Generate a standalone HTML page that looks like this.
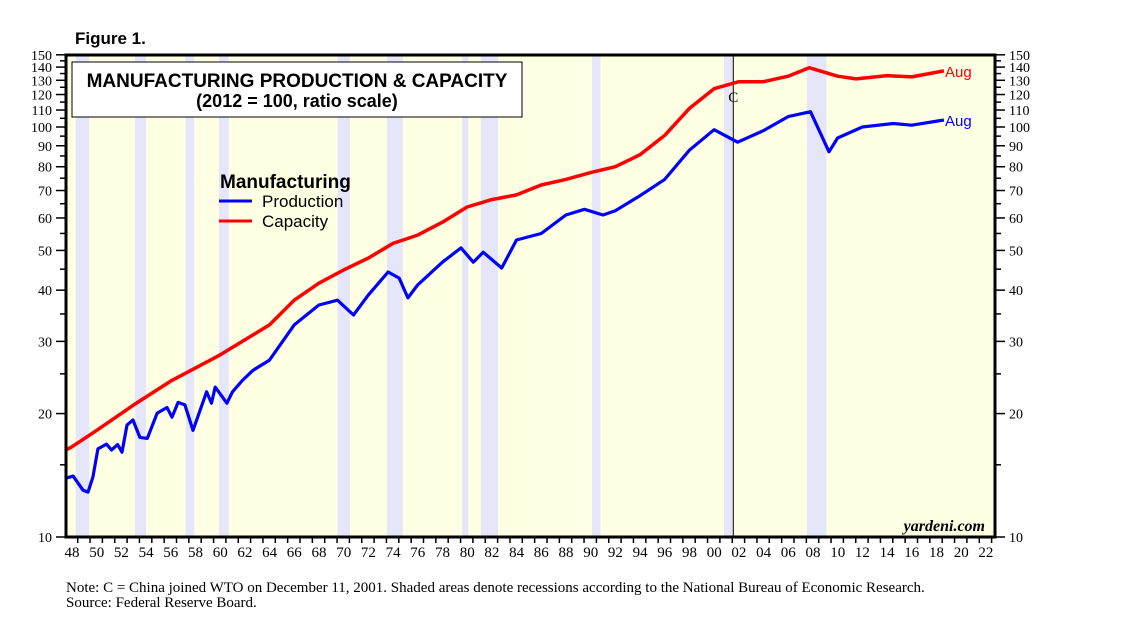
<!DOCTYPE html>
<html><head><meta charset="utf-8"><style>
body{margin:0;background:#fff;}
svg text{font-family:"Liberation Serif",serif;}
.sans{font-family:"Liberation Sans",sans-serif !important;}
</style></head><body>
<svg id="c" width="1138" height="627" xmlns="http://www.w3.org/2000/svg">
<text x="75" y="44" class="sans" font-size="17" font-weight="bold">Figure 1.</text>
<rect x="66" y="55" width="929" height="482" fill="#ffffe3"/>
<g id="rec"></g>
<g id="axes"></g>
<line id="wto" y1="55" y2="537" stroke="#000" stroke-width="1"/>
<text id="wtoL" y="102" font-size="15" text-anchor="middle">C</text>
<path id="cap" fill="none" stroke="#f00" stroke-width="3.5" stroke-linejoin="round"/>
<path id="prod" fill="none" stroke="#00f" stroke-width="3.2" stroke-linejoin="round"/>
<rect x="66" y="55" width="929" height="482" fill="none" stroke="#000" stroke-width="3"/>
<rect x="72" y="62" width="450" height="55" fill="#fff" stroke="#000" stroke-width="1"/>
<text x="297" y="87" class="sans" font-size="19" font-weight="bold" text-anchor="middle">MANUFACTURING PRODUCTION &amp; CAPACITY</text>
<text x="297" y="107" class="sans" font-size="18" font-weight="bold" text-anchor="middle">(2012 = 100, ratio scale)</text>
<text x="220" y="188" class="sans" font-size="19" font-weight="bold">Manufacturing</text>
<line x1="219" y1="201" x2="252" y2="201" stroke="#00f" stroke-width="3"/>
<text x="262" y="207" class="sans" font-size="17">Production</text>
<line x1="219" y1="221" x2="252" y2="221" stroke="#f00" stroke-width="3"/>
<text x="262" y="227" class="sans" font-size="17">Capacity</text>
<text x="945" y="77" class="sans" font-size="15" fill="#f00">Aug</text>
<text x="945" y="126" class="sans" font-size="15" fill="#00f">Aug</text>
<text x="985" y="531" font-size="16" font-style="italic" font-weight="bold" text-anchor="end">yardeni.com</text>
<text x="66" y="592" font-size="15">Note: C = China joined WTO on December 11, 2001. Shaded areas denote recessions according to the National Bureau of Economic Research.</text>
<text x="66" y="607" font-size="15">Source: Federal Reserve Board.</text>
</svg>
<script>
const recessions=[[1948.7,1949.8],[1953.5,1954.4],[1957.6,1958.3],[1960.3,1961.1],[1969.9,1970.9],[1973.9,1975.2],[1980.0,1980.5],[1981.5,1982.9],[1990.5,1991.2],[2001.2,2001.9],[2007.9,2009.5]];
const capYears=[1947.9,1948.4,1950.4,1953.4,1956.4,1960.4,1964.4,1966.4,1968.4,1970.4,1972.4,1974.4,1976.4,1978.4,1980.4,1982.4,1984.4,1986.4,1988.4,1990.4,1992.4,1994.4,1996.4,1998.4,2000.4,2002.4,2004.4,2006.4,2008.1,2010.4,2011.9,2014.4,2016.4,2019.0];
const capValues=[16.3,16.6,18.2,21,24,27.8,32.9,37.8,41.6,44.8,47.9,52,54.5,58.6,63.8,66.5,68.3,72.2,74.5,77.4,80,85.6,95.4,111,124,129,129,133,139.5,133,131,133.5,132.5,137];
const prodYears=[1947.84,1948.49,1949.3,1949.7,1950.1,1950.5,1951.2,1951.6,1952.1,1952.45,1952.86,1953.34,1953.9,1954.5,1955.3,1956.1,1956.5,1957.0,1957.55,1958.2,1959.3,1959.7,1960.0,1960.95,1961.4,1962.2,1963.06,1964.4,1966.4,1968.4,1969.9,1971.2,1972.4,1974.0,1974.9,1975.6,1976.4,1978.4,1979.9,1980.9,1981.7,1983.2,1984.4,1986.4,1988.4,1989.9,1991.4,1992.4,1994.4,1996.4,1998.4,2000.4,2002.3,2004.4,2006.4,2008.2,2009.7,2010.4,2012.4,2014.9,2016.4,2019.0];
const prodValues=[13.9,14.08,13.0,12.87,14.0,16.4,16.85,16.3,16.8,16.1,18.75,19.3,17.5,17.4,20.05,20.7,19.6,21.3,21.0,18.2,22.6,21.2,23.2,21.2,22.6,24.1,25.5,27,32.9,36.8,37.8,34.8,38.9,44.3,42.8,38.3,41.2,46.8,50.7,46.8,49.5,45.3,53,55,61,63,61,62.5,68,74.5,87.8,98.5,91.8,98,106,109,87,94,100,102,101,104];
const yTicks=[10,20,30,40,50,60,70,80,90,100,110,120,130,140,150];
const wtoYear=2001.95;
const NS='http://www.w3.org/2000/svg';
const X=y=>67+(y-1948)*12.35;
const Y=v=>537-410*Math.log10(v/10);
function mk(t,a,p){const e=document.createElementNS(NS,t);for(const k in a)e.setAttribute(k,a[k]);p.appendChild(e);return e;}
const rec=document.getElementById('rec');
recessions.forEach(r=>{const e=mk('rect',{x:X(r[0]),y:55,width:X(r[1])-X(r[0]),height:482,fill:'#e6e6fa'},rec);

});
const ax=document.getElementById('axes');
for(let v=10;v<=150;v+=5){const big=v%10===0;const l=big?10:6;
mk('line',{x1:66-l,x2:66,y1:Y(v),y2:Y(v),stroke:'#000','stroke-width':1.5},ax);
mk('line',{x1:995,x2:995+l,y1:Y(v),y2:Y(v),stroke:'#000','stroke-width':1.5},ax);}
yTicks.forEach(v=>{const t=mk('text',{x:52,y:Y(v)+5,'font-size':14,'text-anchor':'end'},ax);t.textContent=v;


const t2=mk('text',{x:1009,y:Y(v)+5,'font-size':14},ax);t2.textContent=v;

});
for(let yr=1948;yr<=2022;yr++){mk('line',{x1:X(yr)+10.7,x2:X(yr)+10.7,y1:537,y2:543,stroke:'#000','stroke-width':1.5},ax);
if(yr%2===0){const t=mk('text',{x:X(yr)+5,y:557,'font-size':15,'text-anchor':'middle'},ax);t.textContent=String(yr%100).padStart(2,'0');

}}
const w=document.getElementById('wto');w.setAttribute('x1',X(wtoYear));w.setAttribute('x2',X(wtoYear));
document.getElementById('wtoL').setAttribute('x',X(wtoYear));
function path(xs,vs){return xs.map((x,i)=>(i?'L':'M')+X(x).toFixed(1)+','+Y(vs[i]).toFixed(1)).join('');}
document.getElementById('cap').setAttribute('d',path(capYears,capValues));
document.getElementById('prod').setAttribute('d',path(prodYears,prodValues));
</script>
</body></html>
